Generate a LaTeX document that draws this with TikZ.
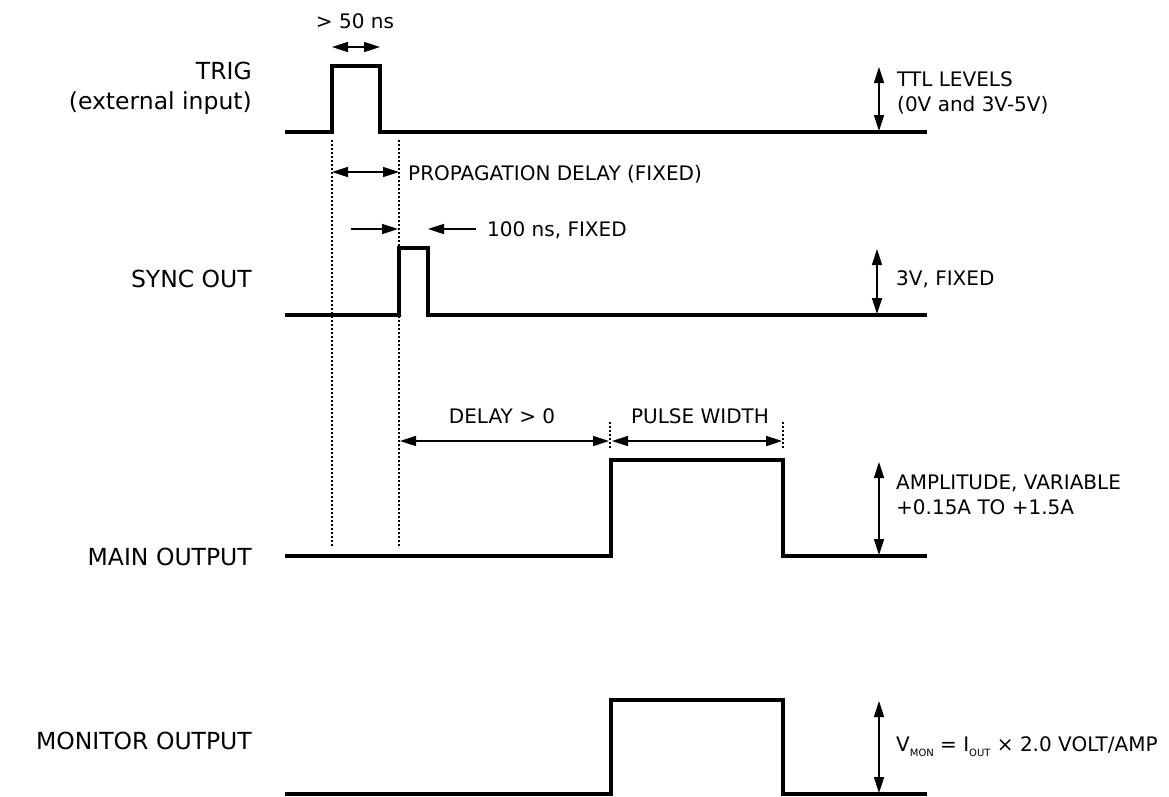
\documentclass[tikz,border=0pt]{standalone}
\usepackage{fontspec}
\setmainfont{DejaVu Sans}
\usetikzlibrary{arrows.meta}

\newcommand{\lowsub}[1]{\raisebox{-0.45ex}{\fontsize{10}{10}\selectfont #1}}

\begin{document}
\begin{tikzpicture}[x=1pt,y=-1pt,font=\fontsize{20}{25}\selectfont,
  wave/.style={line width=3.5pt,line join=miter},
  dimline/.style={line width=1.6pt,{Triangle[length=16pt,width=10pt]}-{Triangle[length=16pt,width=10pt]}},
  pointer/.style={line width=1.6pt,-{Triangle[length=16pt,width=10pt]}},
  guide/.style={line width=2pt,dash pattern=on 2pt off 2pt},
  lbl/.style={anchor=east,align=right,inner sep=0pt,font=\fontsize{23.5}{30}\selectfont},
  note/.style={anchor=west,align=left,inner sep=0pt}]
\useasboundingbox (0,0) rectangle (1169,796);

% signal names
\node[lbl] (trig) at (252,88) {TRIG\\(external input)};
\node[lbl] (sync) at (252,279) {SYNC OUT};
\node[lbl] (main) at (252,557) {MAIN OUTPUT};
\node[lbl] (mon) at (252,741) {MONITOR OUTPUT};

% waveforms
\draw[wave] (285,132) -- (332,132) -- (332,66) -- (380,66) -- (380,132) -- (927,132);
\draw[wave] (285,315) -- (399,315) -- (399,248) -- (428,248) -- (428,315) -- (927,315);
\foreach \lo/\hi in {556/460,794/700}
  \draw[wave] (285,\lo) -- (611,\lo) -- (611,\hi) -- (783,\hi) -- (783,\lo) -- (927,\lo);

% timing guides
\coordinate (g1a) at (332,140); \coordinate (g1b) at (332,548);
\coordinate (g2a) at (399,140); \coordinate (g2b) at (399,548);
\coordinate (g3a) at (610,422); \coordinate (g3b) at (610,449);
\coordinate (g4a) at (783,422); \coordinate (g4b) at (783,449);
\draw[guide] (g1a) -- (g1b);
\draw[guide] (g2a) -- (g2b);
\draw[guide] (g3a) -- (g3b);
\draw[guide] (g4a) -- (g4b);

% trigger width
\node (wtxt) at (355,21) {> 50 ns};
\coordinate (w1) at (332,47); \coordinate (w2) at (380,47);
\draw[dimline] (w1) -- (w2);

% propagation delay
\coordinate (p1) at (332,172); \coordinate (p2) at (399,172);
\draw[dimline] (p1) -- (p2);
\node[note] (ptxt) at (408,174) {PROPAGATION DELAY (FIXED)};

% sync width
\coordinate (s1) at (351,229); \coordinate (s2) at (398,229);
\coordinate (s3) at (476,229); \coordinate (s4) at (428,229);
\draw[pointer] (s1) -- (s2);
\draw[pointer] (s3) -- (s4);
\node[note] (stxt) at (487,230) {100 ns, FIXED};

% delay and pulse width
\coordinate (d1) at (400,441); \coordinate (d2) at (609,441);
\coordinate (d3) at (612,441); \coordinate (d4) at (782,441);
\draw[dimline] (d1) -- (d2);
\draw[dimline] (d3) -- (d4);
\node (dtxt) at (502,416) {DELAY > 0};
\node (wdtxt) at (700,416) {PULSE WIDTH};

% levels
\coordinate (l1a) at (879,67);  \coordinate (l1b) at (879,131);
\coordinate (l2a) at (877,249); \coordinate (l2b) at (877,314);
\coordinate (l3a) at (879,462); \coordinate (l3b) at (879,555);
\coordinate (l4a) at (879,701); \coordinate (l4b) at (879,793);
\draw[dimline] (l1a) -- (l1b);
\draw[dimline] (l2a) -- (l2b);
\draw[dimline] (l3a) -- (l3b);
\draw[dimline] (l4a) -- (l4b);
\node[note] (ttl) at (897,93) {TTL LEVELS\\(0V and 3V-5V)};
\node[note] (fix) at (896,279) {3V, FIXED};
\node[note] (amp) at (896,495) {AMPLITUDE, VARIABLE\\+0.15A TO +1.5A};
\node[note] (vmon) at (896,747) {V\lowsub{MON} = I\lowsub{OUT} × 2.0 VOLT/AMP};
\end{tikzpicture}
\end{document}
